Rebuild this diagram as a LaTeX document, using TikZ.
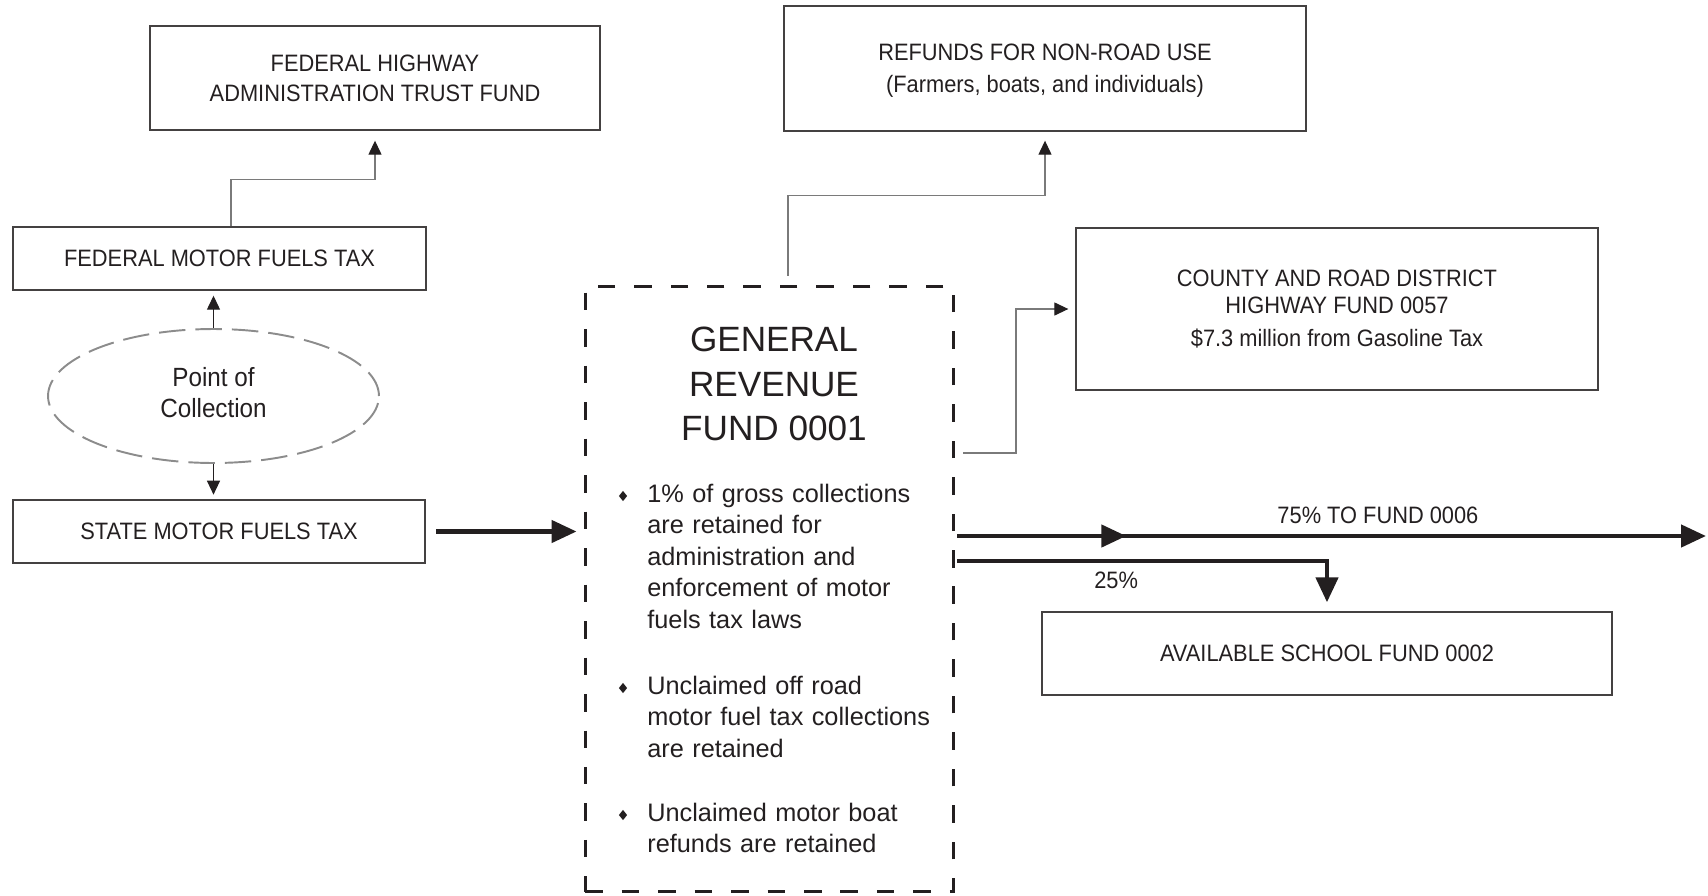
\documentclass[tikz,border=0pt]{standalone}
\usepackage{fontspec}
\setmainfont{Liberation Sans}
\newfontfamily\boxfont{Liberation Sans}[FakeStretch=0.92]
\usetikzlibrary{arrows.meta,shapes.geometric,decorations.markings}
\definecolor{ink}{HTML}{231F20}
\definecolor{wiregray}{HTML}{7A7A7A}
\definecolor{rimgray}{HTML}{8C8C8C}
\begin{document}
\begin{tikzpicture}[x=0.02cm,y=-0.02cm,
    fundbox/.style={draw=ink!85,line width=0.8pt,inner sep=0pt,align=center,text=ink,
      font=\boxfont\fontsize{13.5}{17}\selectfont},
    wire/.style={draw=wiregray,line width=0.7pt,-{Triangle[length=0.28cm,width=0.26cm,color=ink]}},
    flow/.style={draw=ink,line width=2.6pt,-{Triangle[length=0.5cm,width=0.44cm]}},
    bulletmark/.style={diamond,fill=ink,inner sep=0pt,minimum width=0.17cm,minimum height=0.21cm},
    itemtext/.style={anchor=base west,inner sep=0pt,text width=6cm,align=left,text=ink,
      font=\fontsize{14.4}{18}\selectfont},
    labeltext/.style={inner sep=0pt,text=ink,font=\boxfont\fontsize{13.5}{17}\selectfont}]
  \useasboundingbox (0,0) rectangle (1708,896);

  \node[fundbox,minimum width=9cm,minimum height=2.08cm] (fhwa) at (375,78)
    {FEDERAL HIGHWAY\\ADMINISTRATION TRUST FUND};
  \node[fundbox,minimum width=8.26cm,minimum height=1.26cm] (fmft) at (219.5,258.5)
    {FEDERAL MOTOR FUELS TAX};
  \node[ellipse,draw=rimgray,line width=1.1pt,dash pattern=on 0.53cm off 0.2cm,
    minimum width=6.62cm,minimum height=2.68cm,inner sep=0pt,align=center,text=ink,text depth=0.16cm,
    font=\boxfont\fontsize{15}{17.6}\selectfont] (poc) at (213.5,396) {Point of\\Collection};
  \node[fundbox,line width=1.5pt,minimum width=8.24cm,minimum height=1.26cm] (state) at (219,531.5)
    {STATE MOTOR FUELS TAX};

  \node[draw=ink,line width=1.7pt,dash pattern=on 0.35cm off 0.38cm,
    minimum width=7.38cm,minimum height=12.12cm,inner sep=0pt] (grf) at (769.5,589) {};
  \node[inner sep=0pt,align=center,text=ink,font=\fontsize{20}{25.2}\selectfont] (grftitle) at (774,384)
    {GENERAL\\REVENUE\\FUND 0001};
  \node[bulletmark] (b1) at (623,496) {};
  \node[itemtext] (t1) at (647,502)
    {1\% of gross collections\\are retained for\\administration and\\enforcement of motor\\fuels tax laws};
  \node[bulletmark] (b2) at (623,688) {};
  \node[itemtext] (t2) at (647,694)
    {Unclaimed off road\\motor fuel tax collections\\are retained};
  \node[bulletmark] (b3) at (623,815) {};
  \node[itemtext] (t3) at (647,821)
    {Unclaimed motor boat\\refunds are retained};

  \node[fundbox,text depth=0pt,minimum width=10.44cm,minimum height=2.5cm] (refunds) at (1045,68.5)
    {REFUNDS FOR NON-ROAD USE\\[1pt](Farmers, boats, and individuals)};
  \node[fundbox,minimum width=10.44cm,minimum height=3.24cm] (county) at (1337,309)
    {COUNTY AND ROAD DISTRICT\\[-1.7pt]HIGHWAY FUND 0057\\[1.7pt]\$7.3 million from Gasoline Tax};
  \node[fundbox,minimum width=11.4cm,minimum height=1.66cm] (school) at (1327,653.5)
    {AVAILABLE SCHOOL FUND 0002};

  \coordinate (gc) at (963,453);
  \coordinate (g75) at (957,536);
  \coordinate (g25) at (957,561);
  \coordinate (fund6) at (1706,536);

  \draw[wire] ([xshift=0.23cm]fmft.north) -- ++(0,0.94cm) -| ([yshift=-0.2cm]fhwa.south);
  \draw[wire,draw=ink] (poc.north) -- ([yshift=-0.1cm]poc.north |- fmft.south);
  \draw[wire,draw=ink] (poc.south) -- ([yshift=0.08cm]poc.south |- state.north);
  \draw[flow] ([xshift=0.2cm]state.east) -- ([xshift=-0.14cm]state.east -| grf.west);
  \draw[wire] ([xshift=0.37cm,yshift=0.18cm]grf.north) -- ++(0,1.6cm) -| ([yshift=-0.18cm]refunds.south);
  \draw[wire] (gc) -- ++(1.06cm,0) |- ([xshift=-0.14cm]county.west);
  \draw[flow,decoration={markings,mark=at position 0.226 with {\arrow{Triangle[length=0.5cm,width=0.44cm]}}},
    postaction={decorate}] (g75) -- node[labeltext,above=0.19cm,pos=0.562] {75\% TO FUND 0006} (fund6);
  \draw[flow] (g25) -| node[labeltext,below=0.17cm,pos=0.215] {25\%} ([yshift=0.18cm]school.north);
\end{tikzpicture}
\end{document}
